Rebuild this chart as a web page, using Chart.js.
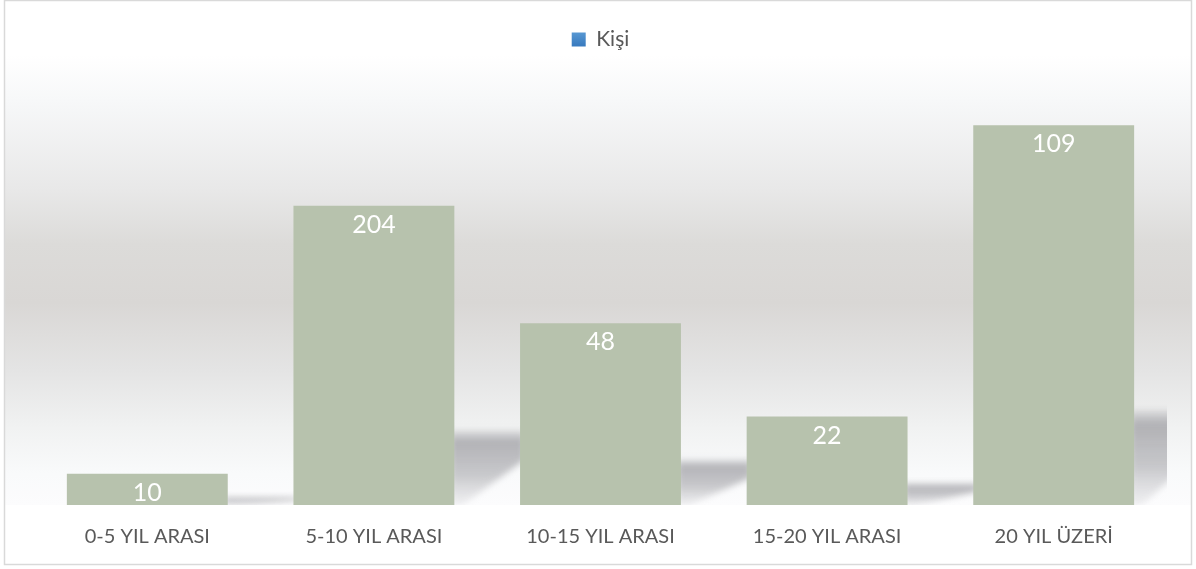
<!DOCTYPE html>
<html>
<head>
<meta charset="utf-8">
<script src="https://cdn.jsdelivr.net/npm/chart.js@4.4.1/dist/chart.umd.min.js"></script>
<style>
  html, body { margin: 0; padding: 0; background: #ffffff; }
  #wrap { width: 1196px; height: 569px; }
</style>
</head>
<body>
<div id="wrap"><canvas id="myChart" width="1196" height="569"></canvas></div>
<script>
// categories
var kategoriler = ["0-5 YIL ARASI", "5-10 YIL ARASI", "10-15 YIL ARASI", "15-20 YIL ARASI", "20 YIL \u00dcZER\u0130"];
// bar heights (the source chart's bars do not follow its labels)
var cubukDegerleri = [31, 298, 181, 88, 378];
// numbers printed on the bars
var etiketler = ["10", "204", "48", "22", "109"];
var seriAdi = "Ki\u015fi";

var yaziTipi = "Lato, 'Open Sans', sans-serif";

// gray band behind the plot + thin outer frame
var arkaPlan = {
    id: 'arkaPlan',
    beforeDraw: function (chart) {
        var ctx = chart.ctx;
        var alt = chart.chartArea.bottom;
        ctx.save();
        ctx.fillStyle = '#ffffff';
        ctx.fillRect(0, 0, chart.width, chart.height);
        var g = ctx.createLinearGradient(0, 55, 0, alt);
        g.addColorStop(0, '#ffffff');
        g.addColorStop(0.1, '#f7f8f9');
        g.addColorStop(0.3, '#e8e8e8');
        g.addColorStop(0.42, '#dcdbd9');
        g.addColorStop(0.55, '#d9d7d5');
        g.addColorStop(0.7, '#e4e4e4');
        g.addColorStop(0.83, '#f1f2f2');
        g.addColorStop(0.93, '#f9fafb');
        g.addColorStop(1, '#fcfcfd');
        ctx.fillStyle = g;
        ctx.fillRect(5, 55, chart.width - 10, alt - 55);
        ctx.strokeStyle = '#d9d9d9';
        ctx.lineWidth = 1.5;
        ctx.strokeRect(4.5, 0.5, chart.width - 9, chart.height - 5);
        ctx.restore();
    }
};

// soft shadows cast to the right of each bar
var golgeler = {
    id: 'golgeler',
    beforeDatasetsDraw: function (chart) {
        var ctx = chart.ctx;
        var alan = chart.chartArea;
        var meta = chart.getDatasetMeta(0);
        ctx.save();
        ctx.beginPath();
        ctx.rect(alan.left, alan.top, alan.right - alan.left, alan.bottom - alan.top);
        ctx.clip();
        ctx.filter = 'blur(3px)';
        meta.data.forEach(function (bar) {
            var sag = bar.x + bar.width / 2;
            var h = bar.base - bar.y;
            var s = h * 0.25;
            var w = 70;
            var g = ctx.createLinearGradient(0, bar.base - s, 0, bar.base);
            g.addColorStop(0, 'rgba(150,150,155,0.2)');
            g.addColorStop(0.15, 'rgba(150,150,155,0.7)');
            g.addColorStop(0.6, 'rgba(160,160,165,0.55)');
            g.addColorStop(1, 'rgba(190,190,195,0.2)');
            ctx.fillStyle = g;
            ctx.beginPath();
            ctx.moveTo(sag - 4, bar.base - s);
            ctx.lineTo(sag + w, bar.base - s);
            ctx.lineTo(sag + w, bar.base - s * 0.6);
            ctx.lineTo(sag + 8, bar.base);
            ctx.lineTo(sag - 4, bar.base);
            ctx.closePath();
            ctx.fill();
        });
        ctx.restore();
    }
};

// white numbers near the top of each bar
var degerYazilari = {
    id: 'degerYazilari',
    afterDatasetsDraw: function (chart) {
        var ctx = chart.ctx;
        var meta = chart.getDatasetMeta(0);
        ctx.save();
        ctx.fillStyle = '#ffffff';
        ctx.font = '25px ' + yaziTipi;
        ctx.textAlign = 'center';
        ctx.textBaseline = 'middle';
        meta.data.forEach(function (bar, i) {
            ctx.fillText(etiketler[i], bar.x, bar.y + 19);
        });
        ctx.restore();
    }
};

var ctx = document.getElementById('myChart').getContext('2d');
var chart = new Chart(ctx, {
    type: 'bar',
    data: {
        labels: kategoriler,
        datasets: [{
            label: seriAdi,
            data: cubukDegerleri,
            backgroundColor: '#b7c2ad',
            borderWidth: 0,
            categoryPercentage: 1,
            barPercentage: 0.71
        }]
    },
    options: {
        responsive: false,
        animation: false,
        devicePixelRatio: 1,
        layout: { padding: { left: 34, right: 29, top: 19, bottom: 8 } },
        plugins: {
            legend: {
                display: true,
                position: 'top',
                labels: {
                    boxWidth: 14,
                    boxHeight: 14,
                    color: '#595959',
                    font: { family: yaziTipi, size: 21 },
                    padding: 10,
                    generateLabels: function (c) {
                        var g = c.ctx.createLinearGradient(0, 31, 0, 45);
                        g.addColorStop(0, '#5b9bd5');
                        g.addColorStop(1, '#3a7cc0');
                        return [{ text: seriAdi, fillStyle: g, strokeStyle: g, lineWidth: 0, datasetIndex: 0, fontColor: '#595959' }];
                    }
                }
            },
            tooltip: { enabled: false }
        },
        scales: {
            x: {
                grid: { display: false },
                border: { display: false },
                ticks: {
                    color: '#595959',
                    font: { family: yaziTipi, size: 20 },
                    padding: 12,
                    maxRotation: 0
                }
            },
            y: {
                display: false,
                min: 0,
                max: 443
            }
        }
    },
    plugins: [arkaPlan, golgeler, degerYazilari]
});
</script>
</body>
</html>
